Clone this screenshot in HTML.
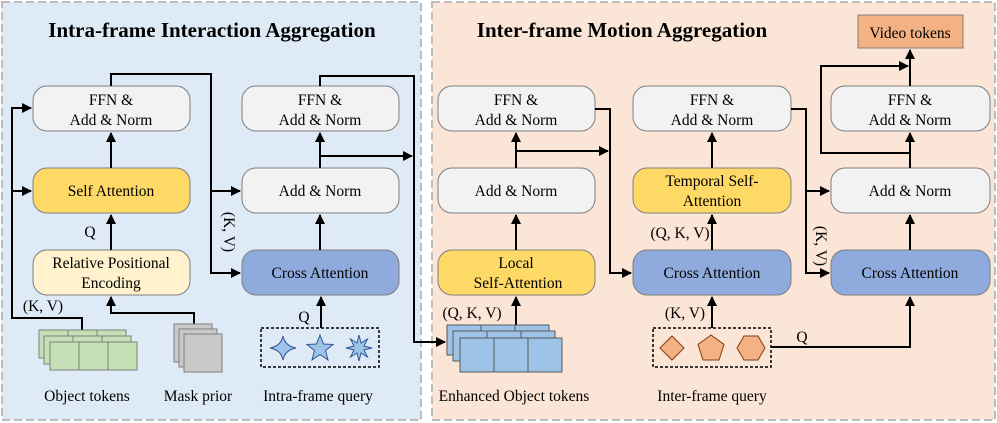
<!DOCTYPE html>
<html><head><meta charset="utf-8"><style>
body{margin:0;background:#fff}
svg{display:block;font-family:"Liberation Serif",serif}
</style></head><body>
<svg width="997" height="423" viewBox="0 0 997 423" xmlns="http://www.w3.org/2000/svg">
<defs>
<marker id="a" markerWidth="10" markerHeight="10" refX="9" refY="5" orient="auto" markerUnits="userSpaceOnUse"><path d="M0,0 L10,5 L0,10 z" fill="#000"/></marker>
</defs>
<rect x="2" y="2" width="419" height="418" fill="#deeaf6" stroke="#bdbdbd" stroke-width="2" stroke-dasharray="8,4"/>
<rect x="432" y="2" width="563" height="418" fill="#fbe5d6" stroke="#bdbdbd" stroke-width="2" stroke-dasharray="8,4"/>
<text x="212" y="37" font-size="21" font-weight="bold" text-anchor="middle">Intra-frame Interaction Aggregation</text>
<text x="622" y="37" font-size="21" font-weight="bold" text-anchor="middle">Inter-frame Motion Aggregation</text>

<g stroke="#7f7f7f" stroke-width="1">
<rect x="33" y="86" width="157" height="45" rx="14" fill="#f2f2f2"/>
<rect x="33" y="168" width="157" height="45" rx="14" fill="#ffd966"/>
<rect x="33" y="250" width="157" height="45" rx="14" fill="#fff2cc"/>
<rect x="242" y="86" width="157" height="45" rx="14" fill="#f2f2f2"/>
<rect x="242" y="168" width="157" height="45" rx="14" fill="#f2f2f2"/>
<rect x="242" y="250" width="157" height="45" rx="14" fill="#8faadc"/>
<rect x="438" y="86" width="157" height="45" rx="14" fill="#f2f2f2"/>
<rect x="438" y="168" width="157" height="45" rx="14" fill="#f2f2f2"/>
<rect x="438" y="250" width="157" height="45" rx="14" fill="#ffd966"/>
<rect x="633" y="86" width="158" height="45" rx="14" fill="#f2f2f2"/>
<rect x="633" y="168" width="158" height="45" rx="14" fill="#ffd966"/>
<rect x="633" y="250" width="158" height="45" rx="14" fill="#8faadc"/>
<rect x="831" y="86" width="159" height="45" rx="14" fill="#f2f2f2"/>
<rect x="831" y="168" width="159" height="45" rx="14" fill="#f2f2f2"/>
<rect x="831" y="250" width="159" height="45" rx="14" fill="#8faadc"/>
<rect x="858" y="15" width="105" height="33" fill="#f4b183"/>
</g>

<g font-size="15.5" text-anchor="middle">
<text x="111" y="105">FFN &amp;</text><text x="111" y="125">Add &amp; Norm</text>
<text x="111" y="196">Self Attention</text>
<text x="111" y="268">Relative Positional</text><text x="111" y="288">Encoding</text>
<text x="320" y="105">FFN &amp;</text><text x="320" y="125">Add &amp; Norm</text>
<text x="320" y="196">Add &amp; Norm</text>
<text x="320" y="278">Cross Attention</text>
<text x="516" y="105">FFN &amp;</text><text x="516" y="125">Add &amp; Norm</text>
<text x="516" y="196">Add &amp; Norm</text>
<text x="516" y="268">Local</text><text x="518" y="288">Self-Attention</text>
<text x="712" y="105">FFN &amp;</text><text x="712" y="125">Add &amp; Norm</text>
<text x="712" y="186">Temporal Self-</text><text x="712" y="206">Attention</text>
<text x="712" y="278">Cross Attention</text>
<text x="910" y="105">FFN &amp;</text><text x="910" y="125">Add &amp; Norm</text>
<text x="910" y="196">Add &amp; Norm</text>
<text x="910" y="278">Cross Attention</text>
<text x="910" y="38">Video tokens</text>
<text x="87" y="401">Object tokens</text>
<text x="198" y="401">Mask prior</text>
<text x="318" y="401">Intra-frame query</text>
<text x="514" y="401">Enhanced Object tokens</text>
<text x="712" y="401">Inter-frame query</text>
<text x="90" y="237">Q</text>
<text x="43" y="311">(K, V)</text>
<text x="304" y="322">Q</text>
<text x="472" y="318">(Q, K, V)</text>
<text x="680" y="238">(Q, K, V)</text>
<text x="685" y="318">(K, V)</text>
<text x="802" y="342">Q</text>
<text transform="translate(224,232) rotate(90)">(K, V)</text>
<text transform="translate(816,246) rotate(90)">(K, V)</text>
</g>

<g stroke="#000" stroke-width="2" fill="none">
<path d="M82,330 V318 H12 V108 H31" marker-end="url(#a)"/>
<path d="M12,191 H31" marker-end="url(#a)"/>
<path d="M194,325 V313 H111 V297" marker-end="url(#a)"/>
<path d="M111,250 V215" marker-end="url(#a)"/>
<path d="M111,168 V133" marker-end="url(#a)"/>
<path d="M111,86 V74 H211 V273 H240" marker-end="url(#a)"/>
<path d="M211,191 H240" marker-end="url(#a)"/>
<path d="M321,328 V297" marker-end="url(#a)"/>
<path d="M320,250 V215" marker-end="url(#a)"/>
<path d="M320,168 V133" marker-end="url(#a)"/>
<path d="M320,156 H412" marker-end="url(#a)"/>
<path d="M320,86 V76 H414 V342 H445" marker-end="url(#a)"/>
<path d="M516,325 V297" marker-end="url(#a)"/>
<path d="M516,250 V215" marker-end="url(#a)"/>
<path d="M516,168 V133" marker-end="url(#a)"/>
<path d="M516,151 H608" marker-end="url(#a)"/>
<path d="M595,109 H610 V273 H631" marker-end="url(#a)"/>
<path d="M712,328 V297" marker-end="url(#a)"/>
<path d="M712,250 V215" marker-end="url(#a)"/>
<path d="M712,168 V133" marker-end="url(#a)"/>
<path d="M791,109 H806 V273 H829" marker-end="url(#a)"/>
<path d="M806,191 H829" marker-end="url(#a)"/>
<path d="M771,347 H910 V297" marker-end="url(#a)"/>
<path d="M910,250 V215" marker-end="url(#a)"/>
<path d="M910,168 V133" marker-end="url(#a)"/>
<path d="M910,153 H821 V66 H908" marker-end="url(#a)"/>
<path d="M910,86 V50" marker-end="url(#a)"/>
</g>

<g fill="#c5e0b4" stroke="#7f7f7f" stroke-width="1">
<rect x="39" y="330" width="29" height="28"/><rect x="68" y="330" width="29" height="28"/><rect x="97" y="330" width="29" height="28"/>
<rect x="44" y="336" width="29" height="28"/><rect x="73" y="336" width="29" height="28"/><rect x="102" y="336" width="29" height="28"/>
<rect x="50" y="342" width="29" height="28"/><rect x="79" y="342" width="29" height="28"/><rect x="108" y="342" width="29" height="28"/>
</g>
<g fill="#c9c9c9" stroke="#7f7f7f" stroke-width="1">
<rect x="174" y="324" width="38" height="38"/><rect x="179" y="329" width="38" height="38"/><rect x="184" y="334" width="38" height="38"/>
</g>
<g fill="#9dc3e6" stroke="#595959" stroke-width="1">
<rect x="447" y="325" width="34" height="30"/><rect x="481" y="325" width="34" height="30"/><rect x="515" y="325" width="34" height="30"/>
<rect x="453" y="331" width="34" height="30"/><rect x="487" y="331" width="34" height="30"/><rect x="521" y="331" width="34" height="30"/>
<rect x="460" y="338" width="34" height="34"/><rect x="494" y="338" width="34" height="34"/><rect x="528" y="338" width="34" height="34"/>
</g>
<rect x="261" y="328" width="118" height="39" fill="none" stroke="#000" stroke-width="1.5" stroke-dasharray="3,2"/>
<rect x="653" y="328" width="118" height="39" fill="none" stroke="#000" stroke-width="1.5" stroke-dasharray="3,2"/>
<g fill="#9dc3e6" stroke="#2f5597" stroke-width="1">
<path d="M283,336 Q285,346 296,348 Q285,350 283,360 Q281,350 270,348 Q281,346 283,336 z"/>
<path d="M320,335 L323.5,344 L333,344.5 L325.5,350.5 L328,360 L320,354.5 L312,360 L314.5,350.5 L307,344.5 L316.5,344 z"/>
<path d="M359,335 L361,343 L367.5,339 L364,346 L372,348 L364,350 L367.5,357 L361,353 L359,361 L357,353 L350.5,357 L354,350 L346,348 L354,346 L350.5,339 L357,343 z"/>
</g>
<g fill="#f4b183" stroke="#843c0c" stroke-width="1">
<path d="M672,336 L684,348 L672,360 L660,348 z"/>
<path d="M711,335 L724,344.5 L719,360 L703,360 L698,344.5 z"/>
<path d="M744,336 L758,336 L765,348 L758,360 L744,360 L737,348 z"/>
</g>
</svg>
</body></html>
